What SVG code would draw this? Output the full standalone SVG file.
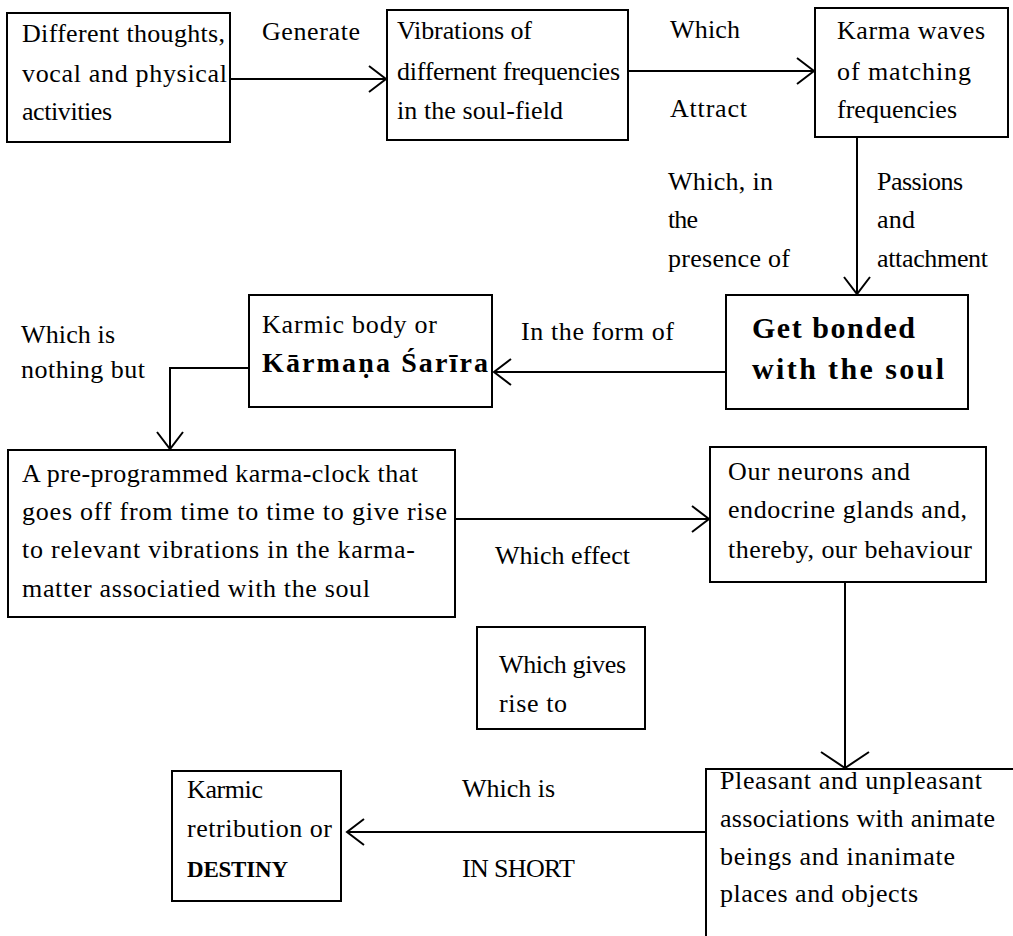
<svg xmlns="http://www.w3.org/2000/svg" width="1013" height="936" viewBox="0 0 1013 936">
<style>
  .box { fill: #fff; stroke: #000; stroke-width: 2; }
  .t { font-family: "Liberation Serif", "Times New Roman", serif; font-size: 26px; fill: #000; }
  .b { font-family: "Liberation Serif", "Times New Roman", serif; font-size: 30px; font-weight: bold; fill: #000; }
  .conn { fill: none; stroke: #000; stroke-width: 2; }
</style>
<defs>
  <marker id="arr" markerUnits="userSpaceOnUse" viewBox="-20 -16 22 32" refX="0" refY="0" markerWidth="22" markerHeight="32" orient="auto" overflow="visible">
    <path d="M -17 -13 L 0 0 L -17 13" fill="none" stroke="#000" stroke-width="2"/>
  </marker>
  <marker id="arrw" markerUnits="userSpaceOnUse" viewBox="-20 -26 22 52" refX="0" refY="0" markerWidth="22" markerHeight="52" orient="auto" overflow="visible">
    <path d="M -16 -24 L 0 0 L -16 24" fill="none" stroke="#000" stroke-width="2"/>
  </marker>
</defs>
<rect width="1013" height="936" fill="#fff"/>

<g id="connectors">
  <line class="conn" x1="230" y1="79" x2="386" y2="79" marker-end="url(#arr)"/>
  <line class="conn" x1="628" y1="71" x2="814" y2="71" marker-end="url(#arr)"/>
  <line class="conn" x1="857" y1="137" x2="857" y2="294" marker-end="url(#arr)"/>
  <line class="conn" x1="726" y1="372" x2="494" y2="372" marker-end="url(#arr)"/>
  <polyline class="conn" points="249,368 170,368 170,449" marker-end="url(#arr)"/>
  <line class="conn" x1="455" y1="519" x2="709" y2="519" marker-end="url(#arr)"/>
  <line class="conn" x1="845" y1="582" x2="845" y2="768" marker-end="url(#arrw)"/>
  <line class="conn" x1="706" y1="832" x2="347" y2="832" marker-end="url(#arr)"/>
  <text class="t" x="262" y="40" textLength="98">Generate</text>
  <text class="t" x="670" y="38" textLength="70">Which</text>
  <text class="t" x="670" y="117" textLength="77">Attract</text>
  <text class="t" x="668" y="190" textLength="105">Which, in</text>
  <text class="t" x="668" y="228" textLength="30">the</text>
  <text class="t" x="668" y="267" textLength="122">presence of</text>
  <text class="t" x="877" y="190" textLength="86">Passions</text>
  <text class="t" x="877" y="228" textLength="38">and</text>
  <text class="t" x="877" y="267" textLength="111">attachment</text>
  <text class="t" x="521" y="340" textLength="153">In the form of</text>
  <text class="t" x="21" y="343" textLength="94">Which is</text>
  <text class="t" x="21" y="378" textLength="124">nothing but</text>
  <text class="t" x="495" y="564" textLength="135">Which effect</text>
  <text class="t" x="462" y="797" textLength="93">Which is</text>
  <text class="t" x="462" y="877" textLength="113">IN SHORT</text>
</g>

<g id="node-thoughts">
  <rect class="box" x="7" y="13" width="223" height="129"/>
  <text class="t" x="22" y="42" textLength="203">Different thoughts,</text>
  <text class="t" x="22" y="82" textLength="205">vocal and physical</text>
  <text class="t" x="22" y="120" textLength="90">activities</text>
</g>

<g id="node-vibrations">
  <rect class="box" x="387" y="10" width="241" height="130"/>
  <text class="t" x="397" y="39" textLength="135">Vibrations of</text>
  <text class="t" x="397" y="80" textLength="223">differnent frequencies</text>
  <text class="t" x="397" y="119" textLength="166">in the soul-field</text>
</g>

<g id="node-karma-waves">
  <rect class="box" x="815" y="8" width="193" height="129"/>
  <text class="t" x="837" y="39" textLength="148">Karma waves</text>
  <text class="t" x="837" y="80" textLength="134">of matching</text>
  <text class="t" x="837" y="118" textLength="120">frequencies</text>
</g>

<g id="node-bonded">
  <rect class="box" x="726" y="295" width="242" height="114"/>
  <text class="b" x="752" y="338" textLength="163">Get bonded</text>
  <text class="b" x="752" y="379" textLength="192">with the soul</text>
</g>

<g id="node-karmic-body">
  <rect class="box" x="249" y="295" width="243" height="112"/>
  <text class="t" x="262" y="333" textLength="175">Karmic body or</text>
  <text class="b" x="262" y="372" textLength="226" style="font-size:28px">Kārmaṇa Śarīra</text>
</g>

<g id="node-clock">
  <rect class="box" x="8" y="450" width="447" height="167"/>
  <text class="t" x="22" y="482" textLength="396">A pre-programmed karma-clock that</text>
  <text class="t" x="22" y="520" textLength="425">goes off from time to time to give rise</text>
  <text class="t" x="22" y="558" textLength="393">to relevant vibrations in the karma-</text>
  <text class="t" x="22" y="597" textLength="348">matter associatied with the soul</text>
</g>

<g id="node-neurons">
  <rect class="box" x="710" y="447" width="276" height="135"/>
  <text class="t" x="728" y="480" textLength="182">Our neurons and</text>
  <text class="t" x="728" y="518" textLength="239">endocrine glands and,</text>
  <text class="t" x="728" y="558" textLength="244">thereby, our behaviour</text>
</g>

<g id="node-gives-rise">
  <rect class="box" x="477" y="627" width="168" height="102"/>
  <text class="t" x="499" y="673" textLength="127">Which gives</text>
  <text class="t" x="499" y="712" textLength="68">rise to</text>
</g>

<g id="node-pleasant">
  <path class="box" d="M 1016 769 H 706 V 938" fill="none"/>
  <text class="t" x="720" y="789" textLength="262">Pleasant and unpleasant</text>
  <text class="t" x="720" y="827" textLength="275">associations with animate</text>
  <text class="t" x="720" y="865" textLength="235">beings and inanimate</text>
  <text class="t" x="720" y="902" textLength="198">places and objects</text>
</g>

<g id="node-destiny">
  <rect class="box" x="172" y="771" width="169" height="130"/>
  <text class="t" x="187" y="798" textLength="76">Karmic</text>
  <text class="t" x="187" y="837" textLength="145">retribution or</text>
  <text class="b" x="187" y="877" textLength="101" style="font-size:23px">DESTINY</text>
</g>
</svg>
